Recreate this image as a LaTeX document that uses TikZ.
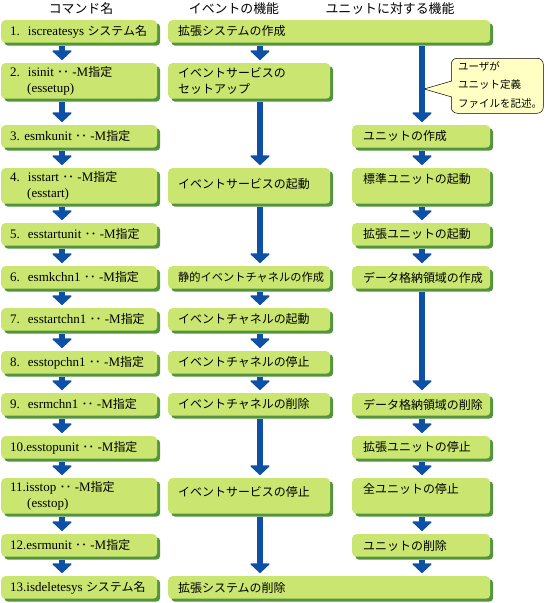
\documentclass[tikz,border=0pt]{standalone}
\usepackage{fontspec}
\setmainfont{Liberation Serif}
\newfontfamily\jp[Scale=0.92]{Noto Sans CJK JP}
\usetikzlibrary{arrows.meta,shadows}
\definecolor{boxgreen}{RGB}{202,230,112}
\definecolor{shadegreen}{RGB}{84,148,62}
\definecolor{flowblue}{RGB}{14,80,166}
\definecolor{noteyellow}{RGB}{255,255,196}
\newcommand{\J}[1]{{\jp #1}}
\newcommand{\Md}{\J{･･} -M\J{指定}}
\begin{document}
\begin{tikzpicture}[x=1pt,y=-1pt,
  flowbox/.style={anchor=north west, rounded corners=4pt, fill=boxgreen, inner sep=0pt,
     general shadow={fill=shadegreen, shadow xshift=3pt, shadow yshift=-3pt}},
  onerow/.style={minimum height=22.5pt},
  tworow/.style={minimum height=35.5pt},
  lcol/.style={flowbox, minimum width=156pt},
  mcol/.style={flowbox, minimum width=162pt},
  rcol/.style={flowbox, minimum width=138pt},
  wcol/.style={flowbox, minimum width=322pt},
  txt/.style={inner sep=0pt, align=left, font=\fontsize{13}{15.5}\selectfont},
  colhead/.style={inner sep=0pt, font=\fontsize{14}{16}\selectfont\jp},
  note/.style={draw=black, line width=0.5pt, fill=noteyellow, rounded corners=6pt, inner sep=0pt},
  flow/.style={draw=flowblue, line width=6pt, shorten <=3pt, shorten >=3pt,
     -{Triangle[width=21pt,length=10pt,line width=1.5pt,round]}}
]
\useasboundingbox (0,0) rectangle (547,603);

% column headers
\node[colhead] (h1) at (81,9) {コマンド名};
\node[colhead] (h2) at (234,9) {イベントの機能};
\node[colhead] (h3) at (390,9) {ユニットに対する機能};

% left column boxes
\node[lcol,onerow] (L1) at (1,20) {};
\node[lcol,tworow] (L2) at (1,63) {};
\node[lcol,onerow] (L3) at (1,125) {};
\node[lcol,tworow] (L4) at (1,168) {};
\node[lcol,onerow] (L5) at (1,223) {};
\node[lcol,onerow] (L6) at (1,266) {};
\node[lcol,onerow] (L7) at (1,308) {};
\node[lcol,onerow] (L8) at (1,351) {};
\node[lcol,onerow] (L9) at (1,393) {};
\node[lcol,onerow] (L10) at (1,436) {};
\node[lcol,tworow] (L11) at (1,478) {};
\node[lcol,onerow] (L12) at (1,534) {};
\node[lcol,onerow] (L13) at (1,576) {};

% middle column boxes
\node[wcol,onerow] (W1) at (168,20) {};
\node[mcol,tworow] (M2) at (168,63) {};
\node[mcol,tworow] (M4) at (168,168) {};
\node[mcol,onerow] (M6) at (168,266) {};
\node[mcol,onerow] (M7) at (168,308) {};
\node[mcol,onerow] (M8) at (168,351) {};
\node[mcol,onerow] (M9) at (168,393) {};
\node[mcol,tworow] (M11) at (168,478) {};
\node[wcol,onerow] (W13) at (168,576) {};

% right column boxes
\node[rcol,onerow] (R3) at (352,125) {};
\node[rcol,tworow] (R4) at (352,168) {};
\node[rcol,onerow] (R5) at (352,223) {};
\node[rcol,onerow] (R6) at (352,266) {};
\node[rcol,onerow] (R9) at (352,393) {};
\node[rcol,onerow] (R10) at (352,436) {};
\node[rcol,tworow] (R11) at (352,478) {};
\node[rcol,onerow] (R12) at (352,534) {};

% left texts
\node[txt,anchor=west] (L1t) at ([xshift=9pt]L1.west) {1.\hspace{8pt}iscreatesys \J{システム名}};
\node[txt,anchor=west] (L2t) at ([xshift=9pt]L2.west) {2.\hspace{8pt}isinit \Md\\\hspace*{17pt}(essetup)};
\node[txt,anchor=west] (L3t) at ([xshift=9pt]L3.west) {3. esmkunit \Md};
\node[txt,anchor=west] (L4t) at ([xshift=9pt]L4.west) {4.\hspace{8pt}isstart \Md\\\hspace*{17pt}(esstart)};
\node[txt,anchor=west] (L5t) at ([xshift=9pt]L5.west) {5.\hspace{8pt}esstartunit \Md};
\node[txt,anchor=west] (L6t) at ([xshift=9pt]L6.west) {6.\hspace{8pt}esmkchn1 \Md};
\node[txt,anchor=west] (L7t) at ([xshift=9pt]L7.west) {7.\hspace{8pt}esstartchn1 \Md};
\node[txt,anchor=west] (L8t) at ([xshift=9pt]L8.west) {8.\hspace{8pt}esstopchn1 \Md};
\node[txt,anchor=west] (L9t) at ([xshift=9pt]L9.west) {9.\hspace{8pt}esrmchn1 \Md};
\node[txt,anchor=west] (L10t) at ([xshift=9pt]L10.west) {10.esstopunit \Md};
\node[txt,anchor=west] (L11t) at ([xshift=9pt]L11.west) {11.isstop \Md\\\hspace*{17pt}(esstop)};
\node[txt,anchor=west] (L12t) at ([xshift=9pt]L12.west) {12.esrmunit \Md};
\node[txt,anchor=west] (L13t) at ([xshift=9pt]L13.west) {13.isdeletesys \J{システム名}};

% middle texts
\node[txt,anchor=west] (W1t) at ([xshift=10pt]W1.west) {\J{拡張システムの作成}};
\node[txt,anchor=west] (M2t) at ([xshift=10pt]M2.west) {\J{イベントサービスの}\\\J{セットアップ}};
\node[txt,anchor=west] (M4t) at ([xshift=10pt,yshift=2pt]M4.west) {\J{イベントサービスの起動}};
\node[txt,anchor=west] (M6t) at ([xshift=10pt]M6.west) {\fontsize{12.2}{14}\selectfont\J{静的イベントチャネルの作成}};
\node[txt,anchor=west] (M7t) at ([xshift=10pt]M7.west) {\J{イベントチャネルの起動}};
\node[txt,anchor=west] (M8t) at ([xshift=10pt]M8.west) {\J{イベントチャネルの停止}};
\node[txt,anchor=west] (M9t) at ([xshift=10pt]M9.west) {\J{イベントチャネルの削除}};
\node[txt,anchor=west] (M11t) at ([xshift=10pt,yshift=4pt]M11.west) {\J{イベントサービスの停止}};
\node[txt,anchor=west] (W13t) at ([xshift=10pt]W13.west) {\J{拡張システムの削除}};

% right texts
\node[txt,anchor=west] (R3t) at ([xshift=11pt]R3.west) {\J{ユニットの作成}};
\node[txt,anchor=north west] (R4t) at ([xshift=11pt,yshift=-5pt]R4.north west) {\J{標準ユニットの起動}};
\node[txt,anchor=west] (R5t) at ([xshift=11pt]R5.west) {\J{拡張ユニットの起動}};
\node[txt,anchor=west] (R6t) at ([xshift=11pt]R6.west) {\J{データ格納領域の作成}};
\node[txt,anchor=west] (R9t) at ([xshift=11pt]R9.west) {\J{データ格納領域の削除}};
\node[txt,anchor=west] (R10t) at ([xshift=11pt]R10.west) {\J{拡張ユニットの停止}};
\node[txt,anchor=north west] (R11t) at ([xshift=11pt,yshift=-5pt]R11.north west) {\J{全ユニットの停止}};
\node[txt,anchor=west] (R12t) at ([xshift=11pt]R12.west) {\J{ユニットの削除}};

% callout
\node[note, anchor=north west, minimum width=92pt, minimum height=55pt] (callout) at (451,58) {};
\coordinate (tip) at (424,89);
\coordinate (tailA) at (451.8,81);
\coordinate (tailB) at (451.8,97);
\filldraw[draw=black, line width=0.5pt, fill=noteyellow] (tailA) -- (tip) -- (tailB);
\node[txt, anchor=north west, font=\fontsize{11.4}{18.5}\selectfont\jp] (calloutt) at (458,61) {ユーザが\\ユニット定義\\ファイルを記述。};

% column x positions for connectors
\coordinate (xl) at (62,0);
\coordinate (xm) at (260,0);
\coordinate (xr) at (422,0);

% left column flow
\foreach \a/\b in {L1/L2,L2/L3,L3/L4,L4/L5,L5/L6,L6/L7,L7/L8,L8/L9,L9/L10,L10/L11,L11/L12,L12/L13}
  \draw[flow] (\a.south -| xl) -- (\b.north -| xl);

% middle column flow
\foreach \a/\b in {W1/M2,M2/M4,M4/M6,M6/M7,M7/M8,M8/M9,M9/M11,M11/W13}
  \draw[flow] (\a.south -| xm) -- (\b.north -| xm);

% right column flow
\foreach \a/\b in {W1/R3,R3/R4,R4/R5,R5/R6,R6/R9,R9/R10,R10/R11,R11/R12,R12/W13}
  \draw[flow] (\a.south -| xr) -- (\b.north -| xr);
\end{tikzpicture}
\end{document}
